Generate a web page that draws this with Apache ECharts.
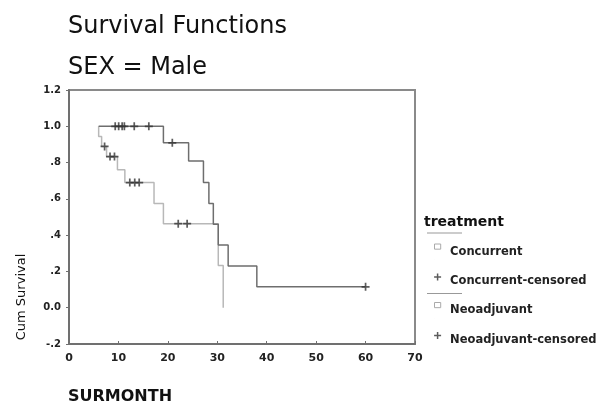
<!DOCTYPE html>
<html><head><meta charset="utf-8">
<script src="https://cdn.jsdelivr.net/npm/echarts@6/dist/echarts.min.js"></script>
<style>html,body{margin:0;padding:0;background:#fff}#c{width:598px;height:403px}</style>
</head><body><div id="c"></div>
<script>
// Kaplan-Meier step points [month, cumulative survival]
const concurrentCurve = [[6,1.0],[19.1,0.909],[24.2,0.808],[27.2,0.69],[28.3,0.575],[29.2,0.46],[30.2,0.345],[32.2,0.23],[38,0.115],[60,0.115]];
const concurrentCensored = [[9.35,1.0],[10.05,1.0],[10.75,1.0],[11.2,1.0],[13.2,1.0],[16.15,1.0],[20.9,0.909],[60,0.115]];
const neoCurve = [[6,1.0],[6,0.944],[6.6,0.889],[7.6,0.833],[9.8,0.76],[11.3,0.69],[17.2,0.575],[19.1,0.463],[30.2,0.232],[31.2,0]];
const neoCensored = [[7.2,0.889],[8.3,0.833],[9.2,0.833],[12.3,0.69],[13.3,0.69],[14.2,0.69],[22.1,0.463],[23.9,0.463]];
const seriesNames = ['Concurrent','Concurrent-censored','Neoadjuvant','Neoadjuvant-censored'];
const yTickLabels = ['-.2','0.0','.2','.4','.6','.8','1.0','1.2'];

const FONT = 'DejaVu Sans';
const PLUS = 'path://M2.75,0H4.25V2.75H7V4.25H4.25V7H2.75V4.25H0V2.75H2.75Z';
// legend icons: visible glyph at top, tiny invisible-size dot at bottom to raise the glyph above the text centre
const LEG_SQ = 'path://M0.5,0.5H6.5V5.5H0.5Z M0.5,16H0.51V16.01H0.5Z';
const LEG_PLUS = 'path://M2.75,0.5H4.25V3.25H7V4.75H4.25V7.5H2.75V4.75H0V3.25H2.75Z M3.5,16H3.51V16.01H3.5Z';
const chart = echarts.init(document.getElementById('c'), null, {renderer:'canvas'});
chart.setOption({
  animation:false,
  backgroundColor:'#fff',
  grid:{left:69, top:90, right:183, bottom:59, show:true, borderColor:'#8a8a8a', borderWidth:2, backgroundColor:'transparent'},
  xAxis:{type:'value', min:0, max:70, interval:10,
    axisLine:{show:true, onZero:false, lineStyle:{color:'#707070', width:2}},
    axisTick:{show:true, inside:true, length:3, lineStyle:{color:'#707070'}},
    splitLine:{show:false},
    axisLabel:{margin:9, color:'#222', fontFamily:FONT, fontWeight:'bold', fontSize:11}},
  yAxis:{type:'value', min:-0.2, max:1.2, interval:0.2,
    axisLine:{show:true, onZero:false, lineStyle:{color:'#707070', width:2}},
    axisTick:{show:true, length:3, lineStyle:{color:'#707070'}},
    splitLine:{show:false},
    axisLabel:{margin:8, color:'#222', fontFamily:FONT, fontWeight:'bold', fontSize:10,
      formatter:v=>yTickLabels[Math.round((v+0.2)/0.2)]}},
  legend:{orient:'vertical', left:434, top:243.5, padding:0, itemWidth:7, itemHeight:16, itemGap:13,
    textStyle:{fontFamily:FONT, fontWeight:'bold', fontSize:11.5, color:'#222', padding:[0,0,0,4]},
    data:[
      {name:seriesNames[0], icon:LEG_SQ, itemStyle:{color:'#fff', borderColor:'#aaa', borderWidth:1}},
      {name:seriesNames[1], icon:LEG_PLUS, itemStyle:{color:'#333', borderWidth:0}},
      {name:seriesNames[2], icon:LEG_SQ, itemStyle:{color:'#fff', borderColor:'#aaa', borderWidth:1}},
      {name:seriesNames[3], icon:LEG_PLUS, itemStyle:{color:'#333', borderWidth:0}}
    ], selectedMode:false},
  graphic:[
    {type:'text', left:68, top:15, style:{text:'Survival Functions', font:'24px "DejaVu Sans"', fill:'#111'}},
    {type:'text', left:68, top:56, style:{text:'SEX = Male', font:'24px "DejaVu Sans"', fill:'#111'}},
    {type:'text', x:22, y:297, rotation:Math.PI/2, style:{text:'Cum Survival', font:'13px "DejaVu Sans"', fill:'#111', align:'center', verticalAlign:'middle'}},
    {type:'text', x:68, y:397, style:{text:'SURMONTH', font:'bold 16px "DejaVu Sans"', fill:'#111', verticalAlign:'middle'}},
    {type:'text', x:424, y:222, style:{text:'treatment', font:'bold 14px "DejaVu Sans"', fill:'#111', verticalAlign:'middle'}},
    {type:'line', shape:{x1:427, y1:233, x2:462, y2:233}, style:{stroke:'#999', lineWidth:1}},
    {type:'line', shape:{x1:427, y1:293.5, x2:462, y2:293.5}, style:{stroke:'#999', lineWidth:1}}
  ],
  series:[
    {name:seriesNames[0], type:'line', step:'end', data:concurrentCurve, showSymbol:false, z:3,
      lineStyle:{color:'#6e6e6e', width:1.5}, itemStyle:{color:'#6e6e6e'}},
    {name:seriesNames[1], type:'scatter', data:concurrentCensored, symbol:PLUS, symbolSize:8, z:5,
      itemStyle:{color:'#333'}},
    {name:seriesNames[2], type:'line', step:'end', data:neoCurve, showSymbol:false, z:2,
      lineStyle:{color:'#b8b8b8', width:1.5}, itemStyle:{color:'#b8b8b8'}},
    {name:seriesNames[3], type:'scatter', data:neoCensored, symbol:PLUS, symbolSize:8, z:5,
      itemStyle:{color:'#333'}}
  ]
});
</script></body></html>
